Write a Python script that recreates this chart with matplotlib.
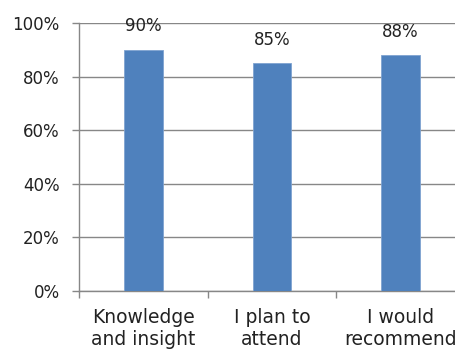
import matplotlib
matplotlib.use("Agg")
import matplotlib.pyplot as plt
from matplotlib.ticker import PercentFormatter

categories = ["Knowledge\nand insight", "I plan to\nattend", "I would\nrecommend"]
values = [90, 85, 88]

BAR_COLOR = "#4F81BD"
GRID_COLOR = "#878787"

plt.rcParams["font.family"] = ["DejaVu Sans"]

fig = plt.figure(figsize=(4.55, 3.51), dpi=100)
# axes runs a bit past the right edge of the figure
ax = fig.add_axes([79 / 455, 60 / 351, 386 / 455, 268 / 351])

x = range(len(categories))
ax.bar(x, values, width=0.3, color=BAR_COLOR, edgecolor="#7FA3D0", linewidth=0.6, zorder=3)

for xi, v in zip(x, values):
    ax.annotate(f"{v}%", (xi, v), xytext=(0, 17), textcoords="offset points",
                ha="center", va="center", fontsize=12, color="#222222")

ax.set_ylim(0, 100)
ax.set_xlim(-0.5, len(categories) - 0.5)
ax.set_yticks(range(0, 101, 20))
ax.yaxis.set_major_formatter(PercentFormatter(decimals=0))
ax.yaxis.grid(True, color=GRID_COLOR, linewidth=1.0, zorder=0)

ax.set_xticks(list(x))
ax.set_xticklabels(categories, fontsize=13.5, linespacing=1.25, color="#222222")
ax.set_xticks([i - 0.5 for i in range(len(categories) + 1)], minor=True)
ax.tick_params(axis="x", which="major", length=0, pad=12)
ax.tick_params(axis="x", which="minor", length=5, color=GRID_COLOR, width=1)
ax.tick_params(axis="y", length=5, color=GRID_COLOR, width=1, labelsize=12, pad=9,
               labelcolor="#222222")

for side in ["top", "right"]:
    ax.spines[side].set_visible(False)
for side in ["left", "bottom"]:
    ax.spines[side].set_color(GRID_COLOR)
    ax.spines[side].set_linewidth(1.0)

fig.savefig("out.png", dpi=100)
